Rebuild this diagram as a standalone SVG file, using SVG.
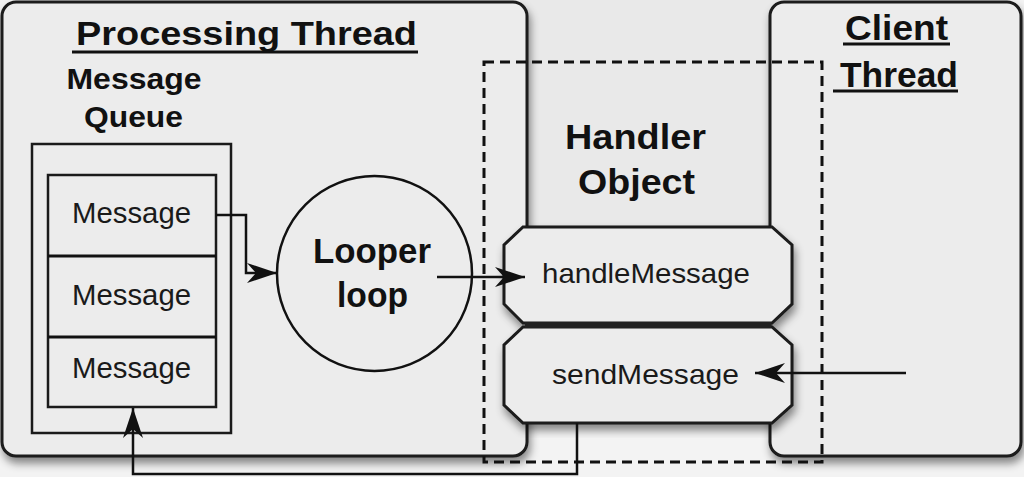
<svg xmlns="http://www.w3.org/2000/svg" width="1024" height="477" viewBox="0 0 1024 477">
<defs>
<style>
.box{fill:#ececec;stroke:#1a1a1a;stroke-width:3}
.thin{fill:#ececec;stroke:#1a1a1a;stroke-width:2.5}
.bold{font-family:"Liberation Sans",Arial,sans-serif;font-weight:bold;fill:#111}
.reg{font-family:"Liberation Sans",Arial,sans-serif;fill:#1a1a1a}
.conn{fill:none;stroke:#111;stroke-width:2.5}
.ul{stroke:#111;stroke-width:3}
.dash{fill:none;stroke:#111;stroke-width:3;stroke-dasharray:10 6}
</style>
<filter id="sh" x="-10%" y="-10%" width="125%" height="125%">
<feDropShadow dx="2" dy="6" stdDeviation="4" flood-color="#000" flood-opacity="0.45"/>
</filter>
<marker id="ah" viewBox="-31 -11 32 22" refX="0" refY="0" markerWidth="32" markerHeight="22" markerUnits="userSpaceOnUse" orient="auto">
<path d="M0,0 L-30,-10 L-21,0 L-30,10 Z" fill="#111"/>
</marker>
</defs>
<rect x="0" y="0" width="1024" height="477" fill="#f3f3f3"/>
<rect x="520" y="0" width="260" height="240" fill="#e9e9e9"/>

<g id="processing-thread">
<rect class="box" x="2" y="2" width="525" height="454" rx="14" filter="url(#sh)"/>
<text class="bold" x="76" y="45" font-size="34" textLength="341" lengthAdjust="spacingAndGlyphs">Processing Thread</text>
<line class="ul" x1="72" y1="52" x2="418" y2="52"/>
</g>

<g id="client-thread">
<rect class="box" x="770" y="2" width="251" height="454" rx="14" filter="url(#sh)"/>
<text class="bold" x="845" y="40" font-size="35" textLength="103" lengthAdjust="spacingAndGlyphs">Client</text>
<line class="ul" x1="843" y1="44" x2="950" y2="44"/>
<text class="bold" x="840" y="87" font-size="35" textLength="118" lengthAdjust="spacingAndGlyphs">Thread</text>
<line class="ul" x1="833" y1="91" x2="958" y2="91"/>
</g>

<g id="message-queue">
<text class="bold" x="66.5" y="89" font-size="30" textLength="135" lengthAdjust="spacingAndGlyphs">Message</text>
<text class="bold" x="84" y="127" font-size="30" textLength="99" lengthAdjust="spacingAndGlyphs">Queue</text>
<rect class="thin" x="32" y="144" width="199" height="289"/>
<rect class="thin" x="48" y="175" width="168" height="232"/>
<line class="ul" x1="48" y1="256" x2="216" y2="256" stroke-width="2.5"/>
<line class="ul" x1="48" y1="337" x2="216" y2="337" stroke-width="2.5"/>
</g>
<g id="message-1"><text class="reg" x="72" y="223" font-size="29" textLength="119" lengthAdjust="spacingAndGlyphs">Message</text></g>
<g id="message-2"><text class="reg" x="72" y="305" font-size="29" textLength="119" lengthAdjust="spacingAndGlyphs">Message</text></g>
<g id="message-3"><text class="reg" x="72" y="378" font-size="29" textLength="119" lengthAdjust="spacingAndGlyphs">Message</text></g>

<g id="looper">
<circle cx="374.5" cy="273.5" r="97.5" fill="#ececec" stroke="#111" stroke-width="2.5"/>
<text class="bold" x="313" y="263" font-size="35" textLength="118" lengthAdjust="spacingAndGlyphs">Looper</text>
<text class="bold" x="337" y="307" font-size="35" textLength="71" lengthAdjust="spacingAndGlyphs">loop</text>
</g>

<g id="handler-object">
<text class="bold" x="565" y="149" font-size="35" textLength="141" lengthAdjust="spacingAndGlyphs">Handler</text>
<text class="bold" x="578" y="194" font-size="35" textLength="117" lengthAdjust="spacingAndGlyphs">Object</text>
</g>

<g id="handleMessage">
<polygon class="box" points="523,227 772,227 792,245 792,304 772,323 523,323 504,304 504,245" filter="url(#sh)"/>
<text class="reg" x="542" y="283" font-size="28" textLength="208" lengthAdjust="spacingAndGlyphs">handleMessage</text>
</g>
<g id="sendMessage">
<polygon class="box" points="523,327 772,327 792,345 792,405 772,423 523,423 504,405 504,345" filter="url(#sh)"/>
<text class="reg" x="552" y="384" font-size="28" textLength="187" lengthAdjust="spacingAndGlyphs">sendMessage</text>
</g>
<rect x="525" y="322" width="246" height="6" fill="#222"/>

<g id="connectors">
<polyline class="conn" points="216,215 246,215 246,273 277,273" marker-end="url(#ah)"/>
<line class="conn" x1="437" y1="277" x2="525" y2="277" marker-end="url(#ah)"/>
<line class="conn" x1="906" y1="373" x2="755" y2="373" marker-end="url(#ah)"/>
<polyline class="conn" points="577,423 577,474 133,474 133,408" marker-end="url(#ah)"/>
</g>

<g id="handler-boundary">
<rect class="dash" x="484" y="62" width="338" height="400"/>
</g>
</svg>
